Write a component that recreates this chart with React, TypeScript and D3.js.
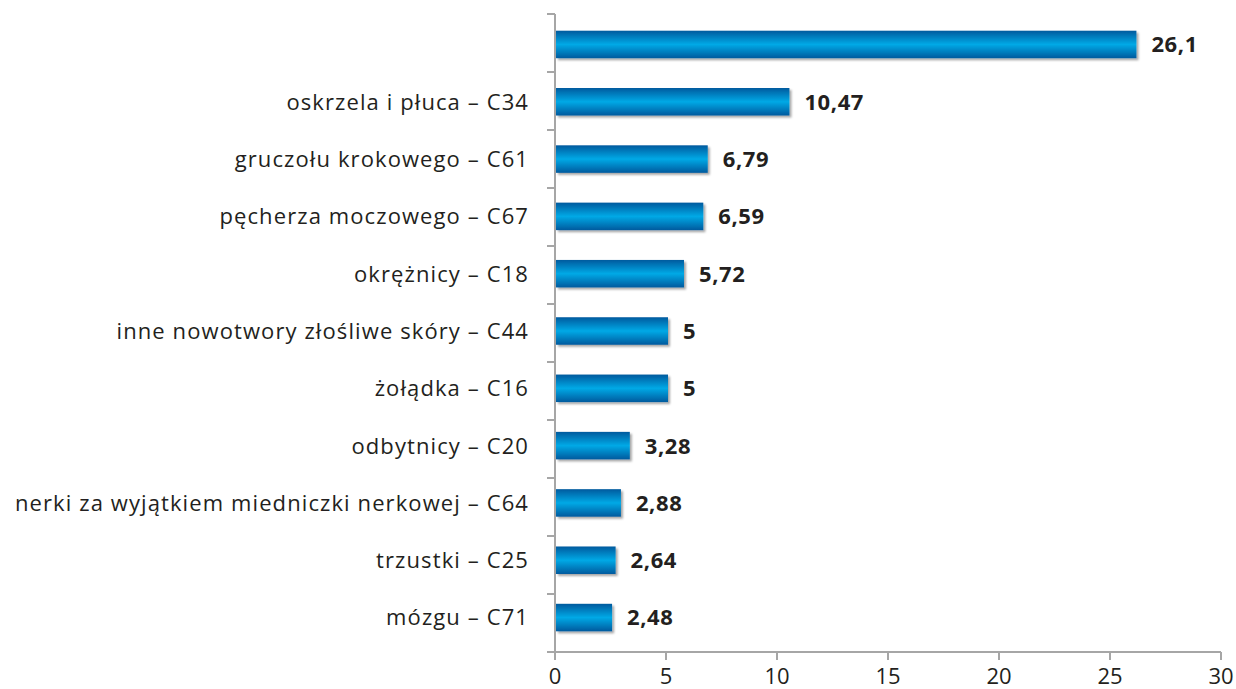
import { useEffect, useRef } from "react";
import * as d3 from "d3";

const categories = [
  "",
  "oskrzela i płuca – C34",
  "gruczołu krokowego – C61",
  "pęcherza moczowego – C67",
  "okrężnicy – C18",
  "inne nowotwory złośliwe skóry – C44",
  "żołądka – C16",
  "odbytnicy – C20",
  "nerki za wyjątkiem miedniczki nerkowej – C64",
  "trzustki – C25",
  "mózgu – C71",
];
const values = [26.1, 10.47, 6.79, 6.59, 5.72, 5, 5, 3.28, 2.88, 2.64, 2.48];
const valueLabels = ["26,1", "10,47", "6,79", "6,59", "5,72", "5", "5", "3,28", "2,88", "2,64", "2,48"];
const xTicks = [0, 5, 10, 15, 20, 25, 30];

const App = () => {
  const svgRef = useRef(null);

  useEffect(() => {
    if (!svgRef.current) return;
    const root = d3.select(svgRef.current);
    root.selectAll("*").remove();

    const left = 555;
    const right = 1221;
    const top = 14;
    const bottom = 652;
    const font = "'Open Sans', sans-serif";
    const axisColor = "#a6a6a6";

    const x = d3.scaleLinear().domain([0, 30]).range([left, right]);
    // bars sit slightly higher than tick bands in the original
    const y = d3
      .scaleBand()
      .domain(categories.map((_, i) => String(i)))
      .range([15.8, 646.2])
      .paddingInner(0.52)
      .paddingOuter(0.26);

    const defs = root.append("defs");
    const grad = defs
      .append("linearGradient")
      .attr("id", "barGrad")
      .attr("x1", 0)
      .attr("y1", 0)
      .attr("x2", 0)
      .attr("y2", 1);
    grad.append("stop").attr("offset", "0%").attr("stop-color", "#005a9e");
    grad.append("stop").attr("offset", "50%").attr("stop-color", "#00a9e6");
    grad.append("stop").attr("offset", "100%").attr("stop-color", "#005a9e");

    const filter = defs
      .append("filter")
      .attr("id", "shadow")
      .attr("x", "-5%")
      .attr("y", "-20%")
      .attr("width", "120%")
      .attr("height", "150%");
    filter
      .append("feDropShadow")
      .attr("dx", 2)
      .attr("dy", 2)
      .attr("stdDeviation", 1.2)
      .attr("flood-color", "#000")
      .attr("flood-opacity", 0.35);

    const svg = root.append("g");

    // bars
    categories.forEach((c, i) => {
      const yc = (y(String(i)) as number) + y.bandwidth() / 2;
      svg
        .append("rect")
        .attr("x", x(0) + 1)
        .attr("y", y(String(i)) as number)
        .attr("width", x(values[i]) - x(0) + 1)
        .attr("height", y.bandwidth())
        .attr("fill", "url(#barGrad)")
        .attr("filter", "url(#shadow)");

      svg
        .append("text")
        .attr("x", x(values[i]) + 17)
        .attr("y", yc)
        .attr("dy", "0.36em")
        .attr("font-family", font)
        .attr("font-weight", "bold")
        .attr("font-size", 22)
        .attr("letter-spacing", 0.6)
        .attr("fill", "#231f20")
        .text(valueLabels[i]);

      svg
        .append("text")
        .attr("x", left - 26)
        .attr("y", yc)
        .attr("dy", "0.36em")
        .attr("text-anchor", "end")
        .attr("font-family", font)
        .attr("font-size", 22)
        .attr("letter-spacing", 1.1)
        .attr("fill", "#231f20")
        .text(c);
    });

    // y axis
    const step = (bottom - top) / categories.length;
    svg
      .append("line")
      .attr("x1", left)
      .attr("x2", left)
      .attr("y1", top)
      .attr("y2", bottom)
      .attr("stroke", axisColor)
      .attr("stroke-width", 2);
    d3.range(categories.length + 1).forEach((i) => {
      svg
        .append("line")
        .attr("x1", left - 8)
        .attr("x2", left)
        .attr("y1", top + i * step)
        .attr("y2", top + i * step)
        .attr("stroke", axisColor)
        .attr("stroke-width", 2);
    });

    // x axis
    svg
      .append("line")
      .attr("x1", left - 8)
      .attr("x2", right)
      .attr("y1", bottom)
      .attr("y2", bottom)
      .attr("stroke", axisColor)
      .attr("stroke-width", 2);
    xTicks.forEach((t) => {
      svg
        .append("line")
        .attr("x1", x(t))
        .attr("x2", x(t))
        .attr("y1", bottom)
        .attr("y2", bottom + 8)
        .attr("stroke", axisColor)
        .attr("stroke-width", 2);
      svg
        .append("text")
        .attr("x", x(t))
        .attr("y", 684)
        .attr("text-anchor", "middle")
        .attr("font-family", font)
        .attr("font-size", 22)
        .attr("fill", "#231f20")
        .text(t);
    });
  }, []);

  return (
    <div style={{ position: "absolute", left: 0, top: 0 }}>
      <svg ref={svgRef} width={1236} height={689} style={{ display: "block" }} />
    </div>
  );
};

export default App;
